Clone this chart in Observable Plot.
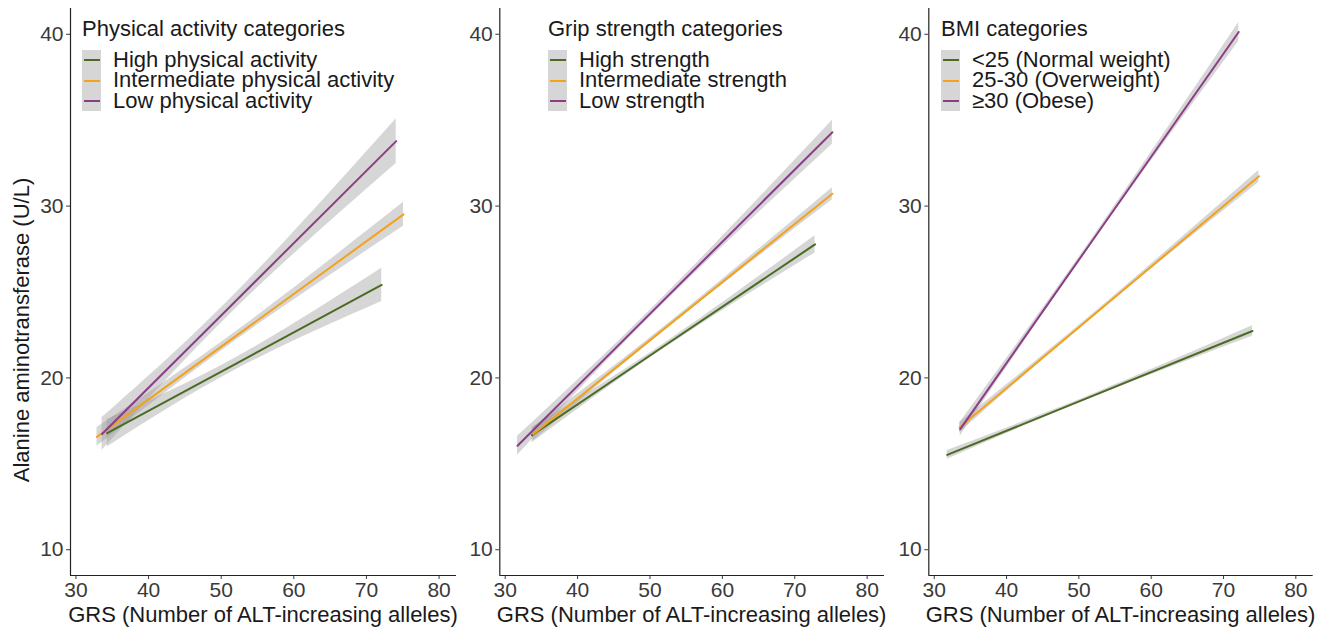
<!DOCTYPE html>
<html>
<head>
<meta charset="utf-8">
<script src="https://cdn.jsdelivr.net/npm/d3@7"></script>
<script src="https://cdn.jsdelivr.net/npm/@observablehq/plot@0.6"></script>
<style>
  body { margin: 0; background: white; }
  #chart { position: relative; width: 1330px; height: 627px; background: white; font-family: "Liberation Sans", Arial, Helvetica, sans-serif; color: #1a1a1a; }
  .abs { position: absolute; white-space: nowrap; }
</style>
</head>
<body>
<div id="chart"></div>
<script>
// ---------------- DATA ----------------
const xTicks = [30, 40, 50, 60, 70, 80];
const yTicks = [10, 20, 30, 40];
const xTitle = "GRS (Number of ALT-increasing alleles)";
const yTitle = "Alanine aminotransferase (U/L)";
const seriesColors = ["#4B6B23", "#F4A11B", "#8B3D88"];

// Panel 1: physical activity
const paTitle = "Physical activity categories";
const paCategories = ["High physical activity", "Intermediate physical activity", "Low physical activity"];
const paX   = [[34.3, 52, 72.1], [32.9, 52, 75.1], [33.6, 52, 74.1]];
const paFit = [[16.78, 20.82, 25.41], [16.57, 22.43, 29.52], [16.74, 24.48, 33.78]];
const paLo  = [[15.98, 20.47, 24.44], [16.02, 22.18, 28.82], [15.79, 24.03, 32.48]];
const paHi  = [[17.58, 21.17, 26.38], [17.12, 22.68, 30.22], [17.69, 24.93, 35.08]];

// Panel 2: grip strength
const gsTitle = "Grip strength categories";
const gsCategories = ["High strength", "Intermediate strength", "Low strength"];
const gsX   = [[33.7, 52, 72.8], [33.9, 52, 75.2], [31.7, 52, 75.2]];
const gsFit = [[16.67, 21.87, 27.77], [16.74, 22.87, 30.72], [16.05, 24.57, 34.30]];
const gsLo  = [[16.22, 21.72, 27.27], [16.34, 22.75, 30.37], [15.50, 24.37, 33.60]];
const gsHi  = [[17.12, 22.02, 28.27], [17.14, 22.99, 31.07], [16.60, 24.77, 35.00]];

// Panel 3: BMI
const bmiTitle = "BMI categories";
const bmiCategories = ["<25 (Normal weight)", "25-30 (Overweight)", "≥30 (Obese)"];
const bmiX   = [[31.8, 52, 74.0], [33.5, 52, 74.9], [33.6, 52, 72.1]];
const bmiFit = [[15.52, 18.97, 22.73], [17.11, 23.65, 31.74], [17.02, 28.07, 40.13]];
const bmiLo  = [[15.27, 18.87, 22.43], [16.81, 23.55, 31.39], [16.62, 27.92, 39.58]];
const bmiHi  = [[15.77, 19.07, 23.03], [17.41, 23.75, 32.09], [17.42, 28.22, 40.68]];

// ---------------- LAYOUT ----------------
const xDomain = [29.25, 82.4];
const yDomain = [8.5, 41.5];
const chart = document.getElementById("chart");

function rows(cats, xs, fits, los, his) {
  const out = [];
  cats.forEach((c, i) => xs[i].forEach((x, j) => out.push({cat: c, x, fit: fits[i][j], lo: los[i][j], hi: his[i][j]})));
  return out;
}

const panels = [
  {left: 0,   width: 458, ml: 70,   mr: 2,    title: paTitle,  cats: paCategories,  data: rows(paCategories, paX, paFit, paLo, paHi),       legendLeft: 82},
  {left: 458, width: 430, ml: 41.3, mr: 4,    title: gsTitle,  cats: gsCategories,  data: rows(gsCategories, gsX, gsFit, gsLo, gsHi),       legendLeft: 548},
  {left: 888, width: 442, ml: 40.3, mr: 17.3, title: bmiTitle, cats: bmiCategories, data: rows(bmiCategories, bmiX, bmiFit, bmiLo, bmiHi), legendLeft: 941}
];

panels.forEach(p => {
  const svg = Plot.plot({
    width: p.width,
    height: 627,
    marginLeft: p.ml,
    marginRight: p.mr,
    marginTop: 8,
    marginBottom: 52,
    style: {background: "transparent", fontFamily: "'Liberation Sans', Arial, Helvetica, sans-serif", fontSize: "21px", color: "#3a3a3a", overflow: "visible"},
    x: {domain: xDomain},
    y: {domain: yDomain},
    color: {domain: p.cats, range: seriesColors},
    marks: [
      Plot.areaY(p.data, {x: "x", y1: "lo", y2: "hi", z: "cat", fill: "#999999", fillOpacity: 0.4, curve: "natural"}),
      Plot.line(p.data, {x: "x", y: "fit", z: "cat", stroke: "cat", strokeWidth: 2}),
      Plot.axisX({ticks: xTicks, tickSize: 4, tickPadding: 3, label: null, fontSize: 21}),
      Plot.axisY({ticks: yTicks, tickSize: 4, tickPadding: 3, label: null, fontSize: 21}),
      Plot.ruleX([xDomain[0]], {stroke: "#222", strokeWidth: 1.2}),
      Plot.ruleY([yDomain[0]], {stroke: "#222", strokeWidth: 1.2})
    ]
  });
  svg.style.position = "absolute";
  svg.style.left = p.left + "px";
  svg.style.top = "0px";
  chart.appendChild(svg);

  // x-axis title
  const xt = document.createElement("div");
  xt.className = "abs";
  xt.textContent = xTitle;
  xt.style.fontSize = "22px";
  xt.style.lineHeight = "22px";
  const cx = p.left + p.ml + (p.width - p.ml - p.mr) / 2;
  xt.style.left = cx + "px";
  xt.style.top = "604px";
  xt.style.transform = "translateX(-50%)";
  chart.appendChild(xt);

  // legend
  const lg = document.createElement("div");
  lg.className = "abs";
  lg.style.left = p.legendLeft + "px";
  lg.style.top = "0px";
  const t = document.createElement("div");
  t.className = "abs";
  t.textContent = p.title;
  t.style.fontSize = "22px";
  t.style.lineHeight = "22px";
  t.style.top = "18px";
  t.style.left = "0px";
  lg.appendChild(t);
  const key = document.createElement("div");
  key.className = "abs";
  key.style.left = "0px";
  key.style.top = "49.75px";
  key.style.width = "19px";
  key.style.height = (20.5 * p.cats.length) + "px";
  key.style.background = "#d6d6d6";
  lg.appendChild(key);
  p.cats.forEach((c, i) => {
    const ln = document.createElement("div");
    ln.className = "abs";
    ln.style.left = "1.5px";
    ln.style.width = "16px";
    ln.style.height = "2px";
    ln.style.top = (49.75 + 20.5 * i + 9.25) + "px";
    ln.style.background = seriesColors[i];
    lg.appendChild(ln);
    const tx = document.createElement("div");
    tx.className = "abs";
    tx.textContent = c;
    tx.style.left = "31px";
    tx.style.top = (49.75 + 20.5 * i) + "px";
    tx.style.fontSize = "22px";
    tx.style.lineHeight = "20.5px";
    lg.appendChild(tx);
  });
  chart.appendChild(lg);
});

// y-axis title
const yt = document.createElement("div");
yt.className = "abs";
yt.textContent = yTitle;
yt.style.fontSize = "22px";
yt.style.lineHeight = "22px";
yt.style.left = "22px";
yt.style.top = "330px";
yt.style.transform = "translate(-50%, -50%) rotate(-90deg)";
chart.appendChild(yt);
</script>
</body>
</html>
